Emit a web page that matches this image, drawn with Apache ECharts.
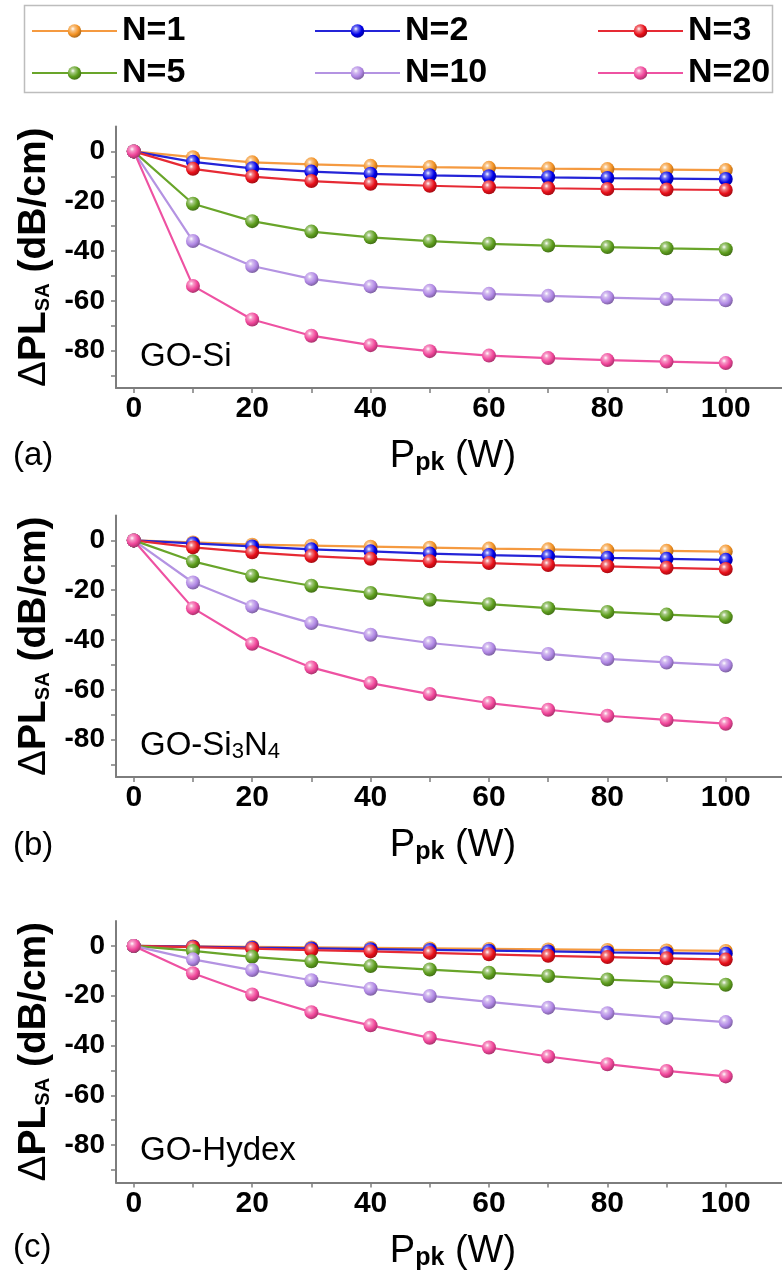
<!DOCTYPE html>
<html>
<head>
<meta charset="utf-8">
<script src="https://cdn.jsdelivr.net/npm/echarts@6/dist/echarts.min.js"></script>
<style>
html,body{margin:0;padding:0;background:#fff;}
#c{width:782px;height:1283px;}
</style>
</head>
<body>
<div id="c"></div>
<script>
// ---------- data ----------
const pPk = [0, 10, 20, 30, 40, 50, 60, 70, 80, 90, 100];
const seriesNames = ['N=1', 'N=2', 'N=3', 'N=5', 'N=10', 'N=20'];
const xTickLabels = [0, 20, 40, 60, 80, 100];
const xTickMarks = [0, 10, 20, 30, 40, 50, 60, 70, 80, 90, 100];
const yTickLabels = [0, -20, -40, -60, -80];
const yTickMarks = [0, -10, -20, -30, -40, -50, -60, -70, -80, -90];

// (a) GO-Si
const siN1  = [0, -2.3, -4.4, -5.2, -5.8, -6.3, -6.6, -6.9, -7.1, -7.3, -7.5];
const siN2  = [0, -4.2, -6.8, -8.1, -9.0, -9.6, -10.0, -10.4, -10.7, -10.9, -11.1];
const siN3  = [0, -7.0, -10.1, -11.9, -13.0, -13.8, -14.4, -14.8, -15.1, -15.3, -15.5];
const siN5  = [0, -21.0, -28.0, -32.2, -34.5, -36.0, -37.1, -37.8, -38.4, -38.9, -39.3];
const siN10 = [0, -36.0, -46.0, -51.2, -54.2, -56.0, -57.2, -58.0, -58.7, -59.3, -59.8];
const siN20 = [0, -54.0, -67.5, -74.0, -77.8, -80.2, -82.0, -83.0, -83.8, -84.4, -85.0];

// (b) GO-Si3N4
const snN1  = [0, -0.8, -1.7, -2.1, -2.5, -2.9, -3.3, -3.6, -4.0, -4.2, -4.5];
const snN2  = [0, -1.2, -2.4, -3.6, -4.4, -5.3, -5.9, -6.4, -7.0, -7.4, -7.8];
const snN3  = [0, -2.8, -4.8, -6.3, -7.4, -8.4, -9.1, -9.9, -10.4, -11.0, -11.5];
const snN5  = [0, -8.4, -14.2, -18.2, -21.1, -23.8, -25.6, -27.2, -28.7, -29.8, -30.8];
const snN10 = [0, -16.9, -26.5, -33.2, -37.9, -41.2, -43.5, -45.6, -47.6, -49.0, -50.2];
const snN20 = [0, -27.2, -41.5, -51.0, -57.3, -61.7, -65.3, -68.0, -70.4, -72.1, -73.6];

// (c) GO-Hydex
const hyN1  = [0, -0.2, -0.4, -0.6, -0.8, -1.0, -1.2, -1.4, -1.6, -1.8, -2.0];
const hyN2  = [0, -0.3, -0.7, -1.0, -1.3, -1.6, -1.9, -2.2, -2.6, -2.9, -3.2];
const hyN3  = [0, -0.5, -1.1, -1.7, -2.2, -2.8, -3.4, -4.0, -4.5, -5.0, -5.5];
const hyN5  = [0, -2.0, -4.4, -6.2, -8.1, -9.5, -10.8, -12.1, -13.5, -14.5, -15.6];
const hyN10 = [0, -5.4, -9.7, -13.8, -17.2, -20.1, -22.5, -24.8, -27.0, -28.9, -30.6];
const hyN20 = [0, -11.0, -19.5, -26.6, -31.9, -36.9, -40.8, -44.4, -47.5, -50.2, -52.4];

const panelSeries = [
  [siN1, siN2, siN3, siN5, siN10, siN20],
  [snN1, snN2, snN3, snN5, snN10, snN20],
  [hyN1, hyN2, hyN3, hyN5, hyN10, hyN20]
];
const panelTags = ['(a)', '(b)', '(c)'];
const panelNames = ['GO-Si', 'GO-Si{s|3}N{s|4}', 'GO-Hydex'];

// ---------- style ----------
const FONT = "'Liberation Sans', Arial, Helvetica, sans-serif";
const lineColors   = ['#F59A40', '#2424D8', '#E62A34', '#69A52A', '#B493E2', '#EE52A2'];
const markerColors = ['#F39224', '#0000E8', '#E8101A', '#5E9E1E', '#B087E4', '#F0469A'];
const gridTops = [126.5, 515.5, 921];
const gridH = 261.5;
const gridLeft = 116;
const gridW = 666;

function mix(hex, t, target) {
  const n = parseInt(hex.slice(1), 16);
  const ch = [(n >> 16) & 255, (n >> 8) & 255, n & 255].map(c => Math.round(c + (target - c) * t));
  return 'rgb(' + ch.join(',') + ')';
}
function sphere(hex) {
  return {
    type: 'radial', x: 0.38, y: 0.34, r: 0.72,
    colorStops: [
      { offset: 0, color: '#ffffff' },
      { offset: 0.22, color: mix(hex, 0.45, 255) },
      { offset: 0.6, color: hex },
      { offset: 1, color: mix(hex, 0.35, 0) }
    ]
  };
}

const grids = [], xAxes = [], yAxes = [], series = [];
gridTops.forEach((top, i) => {
  grids.push({ left: gridLeft, top: top, width: gridW, height: gridH });
  xAxes.push({
    type: 'value', gridIndex: i, min: -3, max: 109.5,
    axisLine: { show: true, onZero: false, lineStyle: { color: '#7d7d7d', width: 2 } },
    axisTick: { show: true, customValues: xTickMarks, length: 5, lineStyle: { color: '#7d7d7d', width: 1.5 } },
    axisLabel: { customValues: xTickLabels, fontSize: 30, fontWeight: 'bold', color: '#000', fontFamily: FONT, margin: 6 },
    splitLine: { show: false },
    name: '{m|P}{s|pk}{m| (W)}',
    nameLocation: 'middle', nameGap: 50,
    nameTextStyle: {
      padding: [0, 0, 0, 8],
      rich: {
        m: { fontSize: 38, fontFamily: FONT, color: '#000' },
        s: { fontSize: 25, fontFamily: FONT, fontWeight: 'bold', color: '#000', verticalAlign: 'bottom' }
      }
    }
  });
  yAxes.push({
    type: 'value', gridIndex: i, min: -95, max: 10,
    axisLine: { show: true, onZero: false, lineStyle: { color: '#7d7d7d', width: 2 } },
    axisTick: { show: true, customValues: yTickMarks, length: 5, lineStyle: { color: '#7d7d7d', width: 1.5 } },
    axisLabel: { customValues: yTickLabels, fontSize: 28, fontWeight: 'bold', color: '#000', fontFamily: FONT, margin: 11 },
    splitLine: { show: false },
    name: '{d|Δ}{b|PL}{s|SA}{b| (dB/cm)}',
    nameLocation: 'middle', nameRotate: 90, nameGap: 58,
    nameTextStyle: {
      rich: {
        d: { fontSize: 39, fontFamily: FONT, color: '#000' },
        b: { fontSize: 39, fontFamily: FONT, fontWeight: 'bold', color: '#000' },
        s: { fontSize: 20, fontFamily: FONT, fontWeight: 'bold', color: '#000', verticalAlign: 'bottom' }
      }
    }
  });
  panelSeries[i].forEach((arr, j) => {
    series.push({
      type: 'line', name: seriesNames[j], xAxisIndex: i, yAxisIndex: i,
      data: pPk.map((x, k) => [x, arr[k]]),
      symbol: 'circle', symbolSize: 14, showSymbol: true,
      lineStyle: { color: lineColors[j], width: 2.2 },
      itemStyle: { color: sphere(markerColors[j]) },
      emphasis: { disabled: true },
      z: 2 + j
    });
  });
});

const legendBase = {
  orient: 'vertical', top: 8, itemWidth: 85, itemHeight: 17, itemGap: 6,
  selectedMode: false,
  textStyle: { fontSize: 34, fontWeight: 'bold', color: '#000', fontFamily: FONT, lineHeight: 36 }
};
const legends = [
  Object.assign({}, legendBase, { left: 26, data: [seriesNames[0], seriesNames[3]] }),
  Object.assign({}, legendBase, { left: 309, data: [seriesNames[1], seriesNames[4]] }),
  Object.assign({}, legendBase, { left: 592, data: [seriesNames[2], seriesNames[5]] })
];

const graphics = [
  { type: 'rect', left: 22, top: 3, shape: { width: 748, height: 87 }, style: { fill: 'none', stroke: '#bdbdbd', lineWidth: 1.5 }, z: 0 }
];
const tagY = [456, 846, 1248];
const nameY = [357, 746, 1151];
for (let i = 0; i < 3; i++) {
  graphics.push({
    type: 'text', x: 13, y: tagY[i],
    style: { text: panelTags[i], fontSize: 33, fontFamily: FONT, fill: '#000', verticalAlign: 'middle', align: 'left' }
  });
  graphics.push({
    type: 'text', x: 140, y: nameY[i],
    style: {
      text: panelNames[i], fontSize: 33, fontFamily: FONT, fill: '#000', verticalAlign: 'middle', align: 'left',
      rich: { s: { fontSize: 22, fontFamily: FONT, fill: '#000', verticalAlign: 'bottom', lineHeight: 16 } }
    }
  });
}

const chart = echarts.init(document.getElementById('c'), null, { renderer: 'canvas', width: 782, height: 1283 });
chart.setOption({
  animation: false,
  backgroundColor: '#ffffff',
  grid: grids,
  xAxis: xAxes,
  yAxis: yAxes,
  legend: legends,
  series: series,
  graphic: graphics
});
</script>
</body>
</html>
